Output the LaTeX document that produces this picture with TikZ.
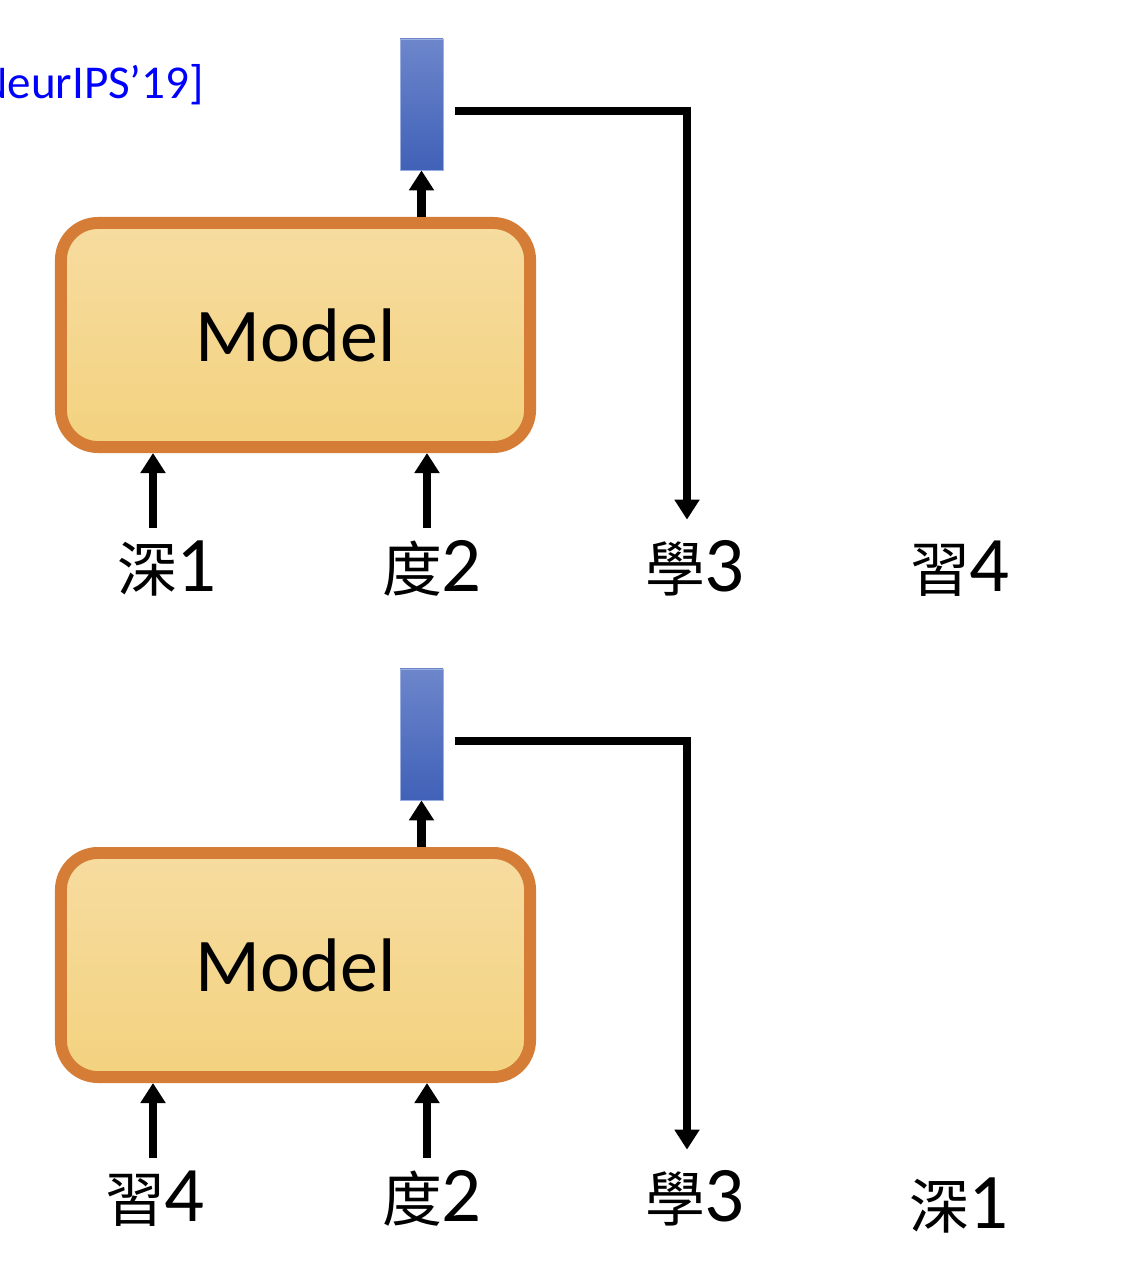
\documentclass[tikz,border=0pt]{standalone}
\usepackage{fontspec}
\setmainfont{Carlito}
\newfontfamily\cjk{Noto Sans CJK TC}[Scale=0.76]
\usetikzlibrary{arrows.meta,positioning}
\definecolor{boxline}{HTML}{D57D36}
\definecolor{boxtop}{HTML}{F6DCA0}
\definecolor{boxbot}{HTML}{F3D27F}
\definecolor{bartop}{HTML}{6D86CB}
\definecolor{barbot}{HTML}{4161B8}
\definecolor{barline}{HTML}{9AAEE0}
\tikzset{
  model/.style={rectangle, draw=boxline, line width=8.5pt, top color=boxtop,
    bottom color=boxbot, rounded corners=0.925cm, minimum width=11.725cm,
    minimum height=5.6cm, font=\fontsize{54}{60}\selectfont},
  vec/.style={rectangle, draw=barline, line width=0.5pt, top color=bartop,
    bottom color=barbot, minimum width=1.075cm, minimum height=3.275cm, inner sep=0pt},
  tok/.style={inner sep=0pt, anchor=base, font=\fontsize{56}{60}\selectfont},
  arr/.style={draw, line width=5.7pt, -{Triangle[width=0.6cm,length=0.5cm]}}
}

\begin{document}
\begin{tikzpicture}[x=0.025cm, y=-0.025cm]
  \useasboundingbox (0,0) rectangle (1132,1268);
  \clip (0,0) rectangle (1132,1268);
    % Citation (cut at the left edge)
    \node [anchor=base east, inner sep=0pt, text=blue,
      font=\fontsize{33.5}{40}\selectfont] (cite) at (204,98) {NeurIPS’19]};

    % Upper step
    \node [model] (model1) at (295.5,335) {Model};
    \node [vec] (vec1) at (421.5,104.5) {};
    \node [tok] (tok1) at (167,591) {{\cjk 深}1};
    \node [tok] (tok2) at (432,591) {{\cjk 度}2};
    \node [tok] (tok3) at (695,591) {{\cjk 學}3};
    \node [tok] (tok4) at (960,591) {{\cjk 習}4};
    \coordinate [above left=0.3cm and 0.35cm of tok1.north] (in1);
    \coordinate [above left=0.3cm and 0.125cm of tok2.north] (in2);

    \path [arr] (in1) -- (in1 |- model1.south);
    \path [arr] (in2) -- (in2 |- model1.south);
    \path [arr] (vec1.south |- model1.north) -- (vec1.south);
    \path [arr] ([shift={(0.3cm,-0.16cm)}]vec1.east) -| ([shift={(-0.2cm,0.5cm)}]tok3.north);

    % Lower step
    \node [model] (model2) at (295.5,965) {Model};
    \node [vec] (vec2) at (421.5,734.5) {};
    \node [tok] (tok5) at (155,1221) {{\cjk 習}4};
    \node [tok] (tok6) at (432,1221) {{\cjk 度}2};
    \node [tok] (tok7) at (695,1221) {{\cjk 學}3};
    \node [tok] (tok8) at (959,1228) {{\cjk 深}1};
    \coordinate [above left=0.3cm and 0.05cm of tok5.north] (in5);
    \coordinate [above left=0.3cm and 0.125cm of tok6.north] (in6);

    \path [arr] (in5) -- (in5 |- model2.south);
    \path [arr] (in6) -- (in6 |- model2.south);
    \path [arr] (vec2.south |- model2.north) -- (vec2.south);
    \path [arr] ([shift={(0.3cm,-0.16cm)}]vec2.east) -| ([shift={(-0.2cm,0.5cm)}]tok7.north);
\end{tikzpicture}
\end{document}
